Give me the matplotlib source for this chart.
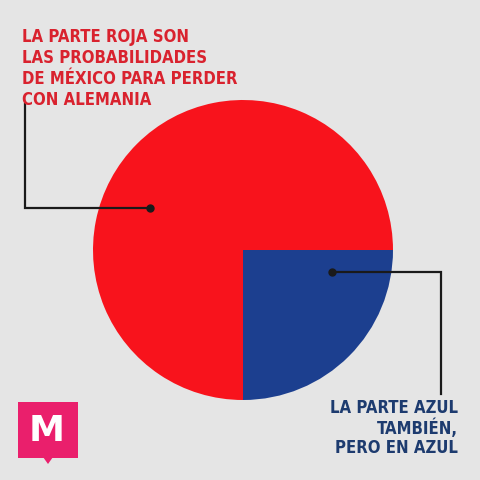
import matplotlib
matplotlib.use("Agg")
import matplotlib.pyplot as plt
from matplotlib.patches import FancyBboxPatch, Polygon

# chart data
labels = ["azul", "roja"]
shares = [25, 75]
colors = ["#1c3f8f", "#f8131c"]
red_text = ["LA PARTE ROJA SON", "LAS PROBABILIDADES",
            "DE MÉXICO PARA PERDER", "CON ALEMANIA"]
blue_text = ["LA PARTE AZUL", "TAMBIÉN,", "PERO EN AZUL"]

BG = "#e5e5e5"
W = H = 480

fig = plt.figure(figsize=(4.8, 4.8), dpi=100, facecolor=BG)

# pie, bounding box in pixel units (left, top, size)
px, py, ps = 93, 100, 300
pie_ax = fig.add_axes([px / W, 1 - (py + ps) / H, ps / W, ps / H])
pie_ax.pie(shares, colors=colors, startangle=270, counterclock=True,
           radius=1.0, wedgeprops=dict(linewidth=0))
pie_ax.set_xlim(-1, 1)
pie_ax.set_ylim(-1, 1)
pie_ax.set_aspect("equal")
pie_ax.axis("off")

# overlay in pixel coordinates
ov = fig.add_axes([0, 0, 1, 1], facecolor="none")
ov.set_xlim(0, W)
ov.set_ylim(H, 0)
ov.axis("off")

font = dict(family="DejaVu Sans", fontweight="heavy", fontstretch="condensed",
            fontsize=12)
for i, line in enumerate(red_text):
    ov.text(22, 37 + i * 21, line, color="#d9222e", ha="left", va="center",
            **font)
for i, line in enumerate(blue_text):
    ov.text(458, 408 + i * 20, line, color="#1d3b6f", ha="right",
            va="center", **font)

# leader lines
ov.plot([25, 25, 150], [104, 208, 208], color="#1a1a1a", lw=1.6,
        solid_joinstyle="miter")
ov.plot([150], [208], "o", color="#1a1a1a", ms=5)
ov.plot([332, 441, 441], [272, 272, 394], color="#1a1a1a", lw=1.6,
        solid_joinstyle="miter")
ov.plot([332], [272], "o", color="#1a1a1a", ms=5)

# logo
pink = "#ea1f6c"
ov.add_patch(FancyBboxPatch((18, 402), 60, 56, boxstyle="square,pad=0",
                            facecolor=pink, edgecolor="none"))
ov.add_patch(Polygon([[43, 457], [53, 457], [48, 464]], closed=True,
                     facecolor=pink, edgecolor="none"))
ov.text(47, 431, "M", color="white", ha="center", va="center",
        fontsize=26, fontweight="bold", family="DejaVu Sans")

fig.savefig("out.png", dpi=100, facecolor=BG)
